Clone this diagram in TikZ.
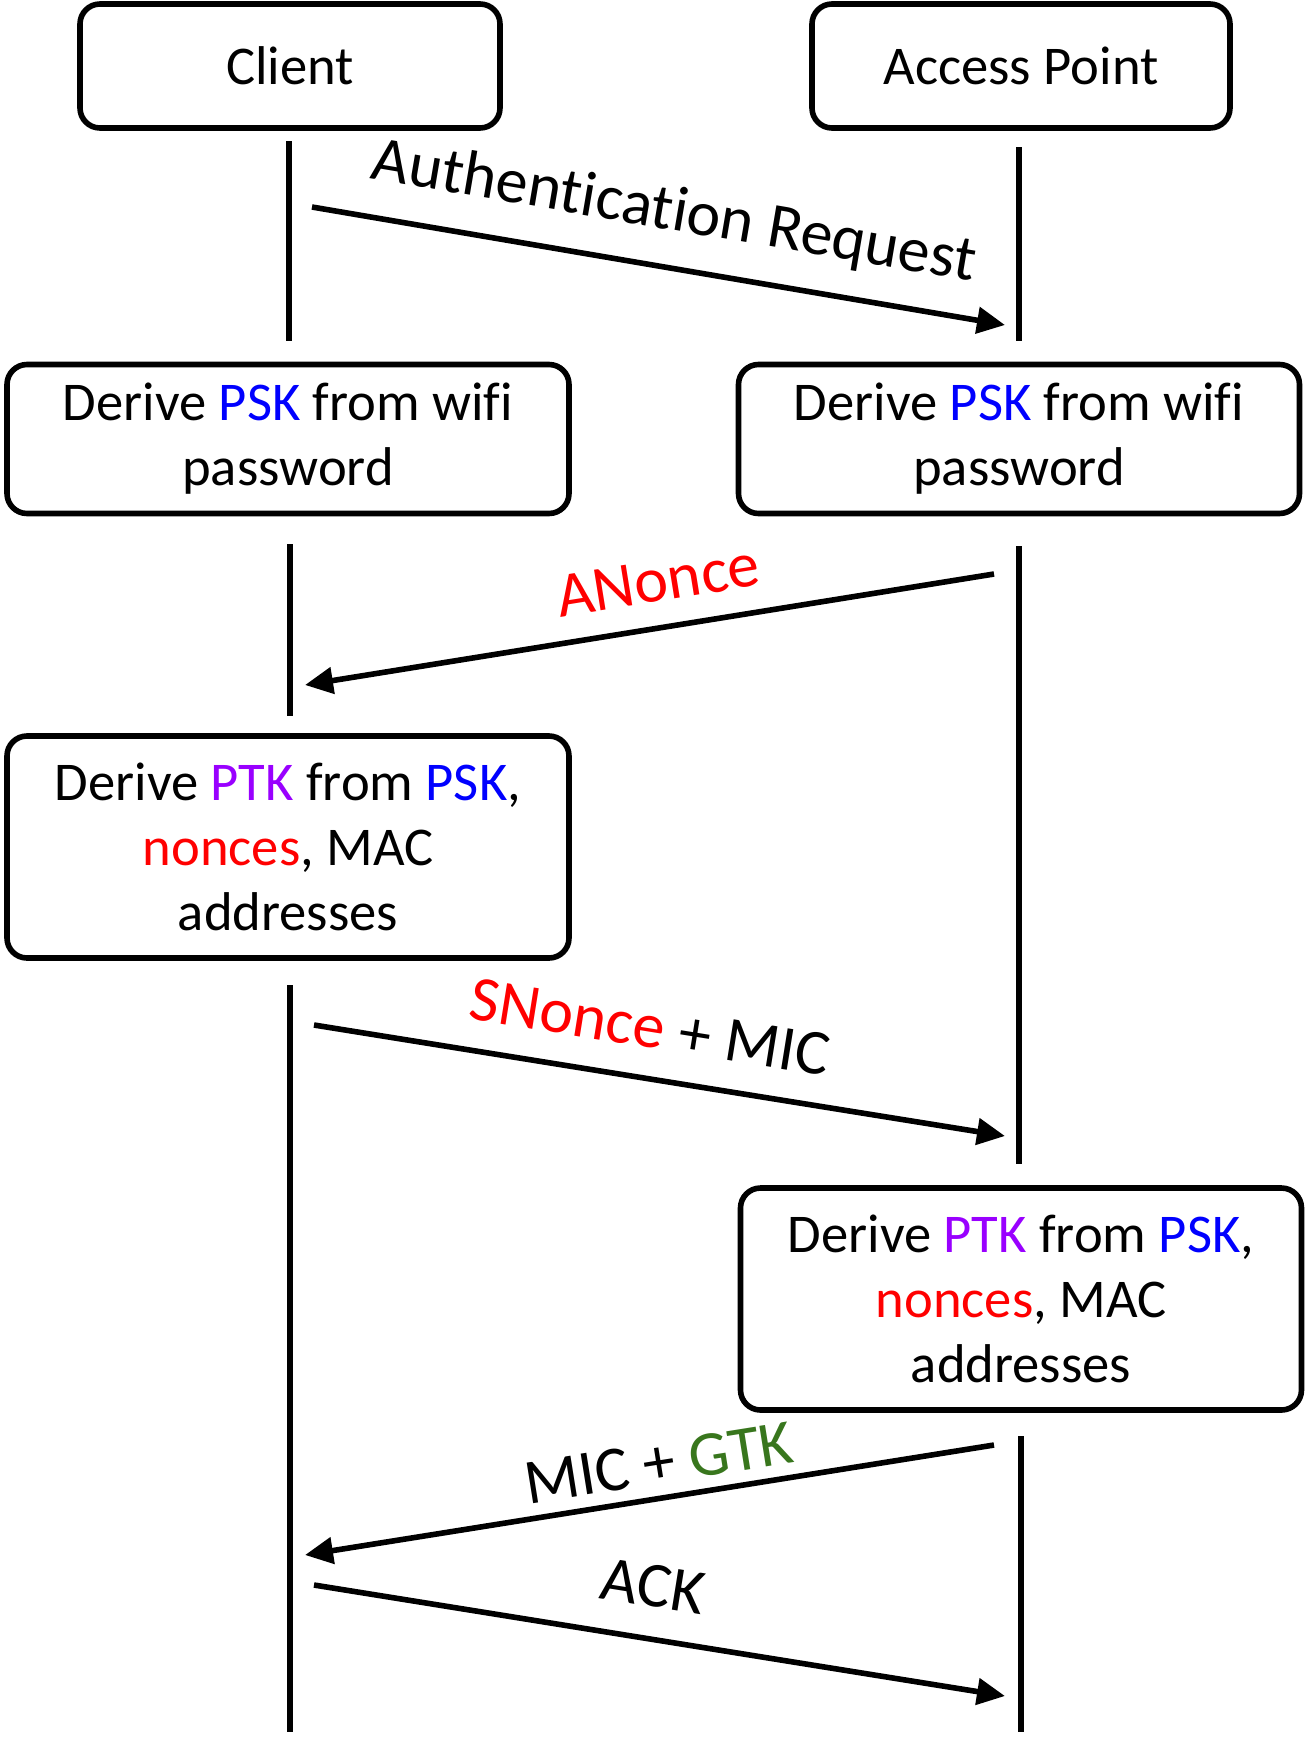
\documentclass[tikz,border=0pt]{standalone}
\usepackage{fontspec}
\setmainfont{Carlito}[Ligatures=CommonOff]
\usetikzlibrary{arrows.meta}
\definecolor{pskblue}{RGB}{0,0,255}
\definecolor{ptkpurple}{RGB}{153,0,255}
\definecolor{nonred}{RGB}{255,0,0}
\definecolor{gtkgreen}{RGB}{56,118,29}
\begin{document}
\begin{tikzpicture}[x=0.5pt,y=-0.5pt,
  box/.style={draw, line width=2.8pt, rounded corners=10pt, align=center, inner sep=0pt,
    font=\fontsize{27.3}{32.5}\selectfont},
  life/.style={line width=2.8pt},
  msg/.style={line width=2.8pt, -{Triangle[length=14pt,width=13pt]}},
  lbl/.style={font=\fontsize{32}{38}\selectfont, inner sep=0pt}]
\useasboundingbox (0,0) rectangle (1306,1741);
% actors
\node[box, minimum width=210pt, minimum height=62pt] (client) at (290,66) {Client};
\node[box, minimum width=209pt, minimum height=62pt] (ap) at (1021,66) {Access Point};
% processing boxes
\node[box, minimum width=281pt, minimum height=74.5pt] (pskc) at (288,439)
  {\raisebox{-2pt}{\parbox{260pt}{\centering Derive \textcolor{pskblue}{PSK} from wifi\\password}}};
\node[box, minimum width=280.5pt, minimum height=74.5pt] (pska) at (1019,439)
  {\raisebox{-2pt}{\parbox{260pt}{\centering Derive \textcolor{pskblue}{PSK} from wifi\\password}}};
\node[box, minimum width=281pt, minimum height=111pt] (ptkc) at (288,847)
  {\fontsize{27.3}{33.3}\selectfont Derive \textcolor{ptkpurple}{PTK} from \textcolor{pskblue}{PSK},\\\textcolor{nonred}{nonces}, MAC\\addresses};
\node[box, minimum width=280.5pt, minimum height=111pt] (ptka) at (1021,1299)
  {\fontsize{27.3}{33.3}\selectfont Derive \textcolor{ptkpurple}{PTK} from \textcolor{pskblue}{PSK},\\\textcolor{nonred}{nonces}, MAC\\addresses};
% lifeline ends
\coordinate (c1a) at (289,141); \coordinate (c1b) at (289,341);
\coordinate (c2a) at (290,544); \coordinate (c2b) at (290,716);
\coordinate (c3a) at (290,985); \coordinate (c3b) at (290,1732);
\coordinate (a1a) at (1019,147); \coordinate (a1b) at (1019,341);
\coordinate (a2a) at (1019,546); \coordinate (a2b) at (1019,1164);
\coordinate (a3a) at (1021,1436); \coordinate (a3b) at (1021,1732);
\draw[life] (c1a) -- (c1b);
\draw[life] (c2a) -- (c2b);
\draw[life] (c3a) -- (c3b);
\draw[life] (a1a) -- (a1b);
\draw[life] (a2a) -- (a2b);
\draw[life] (a3a) -- (a3b);
% message ends
\coordinate (m1s) at (312,207);  \coordinate (m1e) at (1005,325);
\coordinate (m2s) at (994,574);  \coordinate (m2e) at (305,685);
\coordinate (m3s) at (314,1025); \coordinate (m3e) at (1005,1136);
\coordinate (m4s) at (994,1445); \coordinate (m4e) at (305,1555);
\coordinate (m5s) at (314,1585); \coordinate (m5e) at (1005,1696);
\draw[msg] (m1s) -- (m1e);
\draw[msg] (m2s) -- (m2e);
\draw[msg] (m3s) -- (m3e);
\draw[msg] (m4s) -- (m4e);
\draw[msg] (m5s) -- (m5e);
% labels
\node[lbl, rotate=-9.66] (l1) at (674,213) {Authentication Request};
\node[lbl, rotate=9.15] (l2) at (658,581) {\textcolor{nonred}{ANonce}};
\node[lbl, rotate=-9.13] (l3) at (650,1027) {\textcolor{nonred}{SNonce} + MIC};
\node[lbl, rotate=9.07] (l4) at (659,1463) {MIC + \textcolor{gtkgreen}{GTK}};
\node[lbl, rotate=-9.13] (l5) at (653,1586) {ACK};
\end{tikzpicture}
\end{document}
